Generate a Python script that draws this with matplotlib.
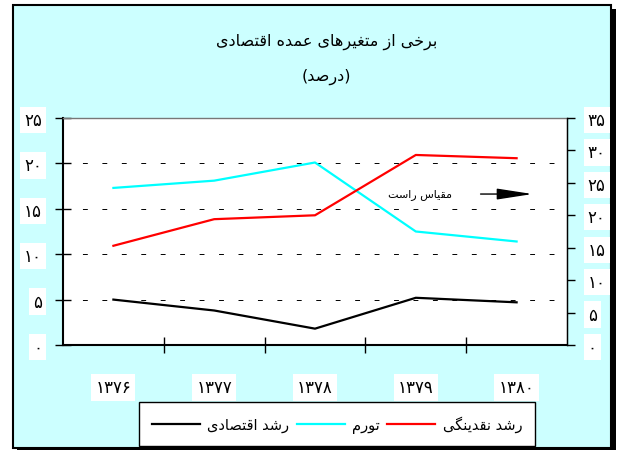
import matplotlib.pyplot as plt
from matplotlib.patches import Rectangle

plt.rcParams['font.family'] = ['DejaVu Sans']

# data
years = ["۱۳۷۶", "۱۳۷۷", "۱۳۷۸", "۱۳۷۹", "۱۳۸۰"]
growth = [5.0, 3.8, 1.8, 5.2, 4.7]          # left scale
inflation = [17.3, 18.1, 20.1, 12.5, 11.4]  # left scale
liquidity = [15.3, 19.4, 20.0, 29.3, 28.8]  # right scale
left_ticks = [0, 5, 10, 15, 20, 25]
right_ticks = [0, 5, 10, 15, 20, 25, 30, 35]

title = "برخی از متغیرهای عمده اقتصادی"
subtitle = "(درصد)"
note = "مقیاس راست"
names = ["رشد اقتصادی", "تورم", "رشد نقدینگی"]

# isolated, final, initial, medial (None = does not join to the left)
FORMS = {
    'ا': ('\uFE8D', '\uFE8E', None, None),
    'ب': ('\uFE8F', '\uFE90', '\uFE91', '\uFE92'),
    'ت': ('\uFE95', '\uFE96', '\uFE97', '\uFE98'),
    'خ': ('\uFEA5', '\uFEA6', '\uFEA7', '\uFEA8'),
    'د': ('\uFEA9', '\uFEAA', None, None),
    'ر': ('\uFEAD', '\uFEAE', None, None),
    'ز': ('\uFEAF', '\uFEB0', None, None),
    'س': ('\uFEB1', '\uFEB2', '\uFEB3', '\uFEB4'),
    'ش': ('\uFEB5', '\uFEB6', '\uFEB7', '\uFEB8'),
    'ص': ('\uFEB9', '\uFEBA', '\uFEBB', '\uFEBC'),
    'ع': ('\uFEC9', '\uFECA', '\uFECB', '\uFECC'),
    'غ': ('\uFECD', '\uFECE', '\uFECF', '\uFED0'),
    'ق': ('\uFED5', '\uFED6', '\uFED7', '\uFED8'),
    'م': ('\uFEE1', '\uFEE2', '\uFEE3', '\uFEE4'),
    'ن': ('\uFEE5', '\uFEE6', '\uFEE7', '\uFEE8'),
    'ه': ('\uFEE9', '\uFEEA', '\uFEEB', '\uFEEC'),
    'و': ('\uFEED', '\uFEEE', None, None),
    'ی': ('\uFBFC', '\uFBFD', '\uFBFE', '\uFBFF'),
    'گ': ('\uFB92', '\uFB93', '\uFB94', '\uFB95'),
}


def shape(text):
    # join letters and reverse for right-to-left display
    out = []
    for i, c in enumerate(text):
        if c not in FORMS:
            out.append(c)
            continue
        iso, fin, ini, med = FORMS[c]
        prev = text[i - 1] if i > 0 else None
        nxt = text[i + 1] if i + 1 < len(text) else None
        join_prev = prev in FORMS and FORMS[prev][2] is not None
        join_next = ini is not None and nxt in FORMS
        if join_prev and join_next:
            out.append(med)
        elif join_prev:
            out.append(fin)
        elif join_next:
            out.append(ini)
        else:
            out.append(iso)
    mirror = {'(': ')', ')': '('}
    return ''.join(mirror.get(c, c) for c in reversed(out))


def fa(n):
    return str(n).translate(str.maketrans("0123456789", "۰۱۲۳۴۵۶۷۸۹"))


W, H = 619, 452
fig = plt.figure(figsize=(W / 100, H / 100), dpi=100)
fig.patch.set_facecolor('white')

# background panel with shadow
fig.patches.append(Rectangle((17 / W, 1 - 451 / H), 599 / W, 441 / H,
                             transform=fig.transFigure, facecolor='black',
                             edgecolor='none', zorder=-3))
fig.patches.append(Rectangle((13 / W, 1 - 449 / H), 598 / W, 443 / H,
                             transform=fig.transFigure, facecolor='#ccffff',
                             edgecolor='black', linewidth=1.5, zorder=-2))

ax = fig.add_axes([63 / W, 1 - 346 / H, 504 / W, 227 / H])
ax.set_facecolor('white')
ax2 = ax.twinx()

x = range(len(years))
ax.plot(x, growth, color='black', lw=1.6, label=shape(names[0]))
ax.plot(x, inflation, color='#00ffff', lw=1.6, label=shape(names[1]))
ax2.plot(x, liquidity, color='#ff0000', lw=1.6, label=shape(names[2]))

ax.set_xlim(-0.5, len(years) - 0.5)
ax.set_ylim(left_ticks[0], left_ticks[-1])
ax2.set_ylim(right_ticks[0], right_ticks[-1])

ax.set_yticks(left_ticks)
ax.set_yticklabels([fa(v) for v in left_ticks])
ax2.set_yticks(right_ticks)
ax2.set_yticklabels([fa(v) for v in right_ticks])
ax.set_xticks(list(x))
ax.set_xticklabels(years)
ax.set_xticks([i + 0.5 for i in range(len(years) - 1)], minor=True)

ax.grid(axis='y', color='black', linestyle=(0, (5, 15)), linewidth=0.7)
ax.set_axisbelow(True)

for s in ['left', 'bottom']:
    ax.spines[s].set_linewidth(1.5)
ax.spines['top'].set_color('#777777')
ax.spines['top'].set_linewidth(1)
ax2.spines['right'].set_linewidth(1)
for s in ['left', 'top', 'bottom']:
    ax2.spines[s].set_visible(False)

ax.tick_params(axis='y', direction='inout', length=12, width=1, labelsize=12, pad=9)
ax2.tick_params(axis='y', direction='out', length=6, width=1, labelsize=12, pad=9)
ax.tick_params(axis='x', which='major', length=0, labelsize=12, pad=24)
ax.tick_params(axis='x', which='minor', direction='inout', length=12, width=1)

box = dict(facecolor='white', edgecolor='none', boxstyle='square,pad=0.25')
for lab in ax.get_yticklabels() + ax2.get_yticklabels() + ax.get_xticklabels():
    lab.set_bbox(box)

fig.text(327 / W, 1 - 42 / H, shape(title), ha='center', va='center', fontsize=11.5)
fig.text(326 / W, 1 - 77 / H, shape(subtitle), ha='center', va='center', fontsize=11.5)

ax.text((420 - 63) / 504, (346 - 195) / 227, shape(note), transform=ax.transAxes,
        ha='center', va='center', fontsize=8)
ax.annotate('', xy=(0.937, 0.665), xytext=(0.823, 0.665),
            xycoords='axes fraction', textcoords='axes fraction',
            arrowprops=dict(arrowstyle='-|>,head_length=1.1,head_width=0.17',
                            mutation_scale=20, color='black', lw=1))

h1, l1 = ax.get_legend_handles_labels()
h2, l2 = ax2.get_legend_handles_labels()
leg = fig.legend(h1 + h2, l1 + l2, loc='center', bbox_to_anchor=(337 / W, 1 - 425 / H),
                 ncol=3, fontsize=10.5, frameon=True, fancybox=False, framealpha=1,
                 edgecolor='black', handlelength=3.3, handletextpad=0.5,
                 columnspacing=0.5, borderpad=0.9)
leg.get_frame().set_linewidth(1)

fig.savefig('out.png', dpi=100)
